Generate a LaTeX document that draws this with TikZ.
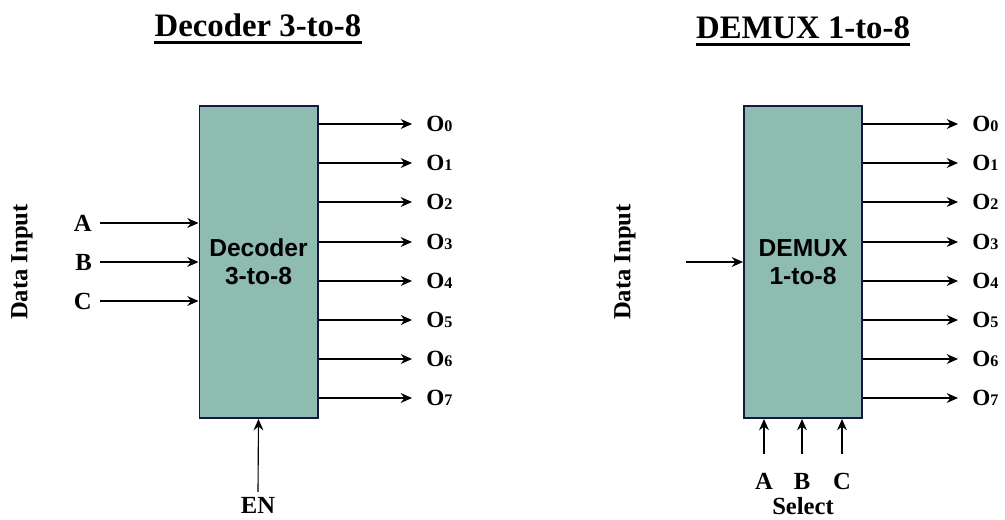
\documentclass[tikz,border=0pt]{standalone}
\usepackage{fontspec}
\setmainfont{Liberation Serif}
\setsansfont{Liberation Sans}
\usetikzlibrary{arrows.meta,positioning,calc}
\definecolor{blockfill}{RGB}{143,188,176}
\definecolor{blockline}{RGB}{22,22,62}
\newcommand{\Olbl}[1]{O{\fontsize{11.5}{11.5}\selectfont #1}}

\begin{document}
\begin{tikzpicture}[
            x=0.025cm, y=-0.025cm,
            every node/.style={font=\bfseries\fontsize{17.5}{17.5}\selectfont},
            blk/.style={draw=blockline, fill=blockfill, line width=1.4pt, minimum width=2.95cm,
                        minimum height=7.8cm, inner sep=0pt, align=center,
                        font=\sffamily\bfseries\fontsize{17.5}{20}\selectfont},
            arr/.style={-{Stealth[length=8pt,width=7pt]}, line width=0.8pt},
            outlbl/.style={anchor=west, inner xsep=0.35cm, font=\bfseries\fontsize{16.5}{16.5}\selectfont},
            inlbl/.style={anchor=east, inner xsep=0.2cm},
            ttl/.style={inner sep=0pt, anchor=base, font=\bfseries\fontsize{23.3}{28}\selectfont}
        ]

\useasboundingbox (0,0) rectangle (1005,519);

% titles
            \node[ttl] (ttl1) at (258,37) {Decoder 3-to-8};
            \node[ttl] (ttl2) at (803,39) {DEMUX 1-to-8};
            \draw[line width=2.2pt] ([yshift=-3.6pt]ttl1.base west) -- ([yshift=-3.6pt]ttl1.base east);
            \draw[line width=2.2pt] ([yshift=-3.6pt]ttl2.base west) -- ([yshift=-3.6pt]ttl2.base east);

% blocks
            \node[blk] (dec) at (258.5,262) {Decoder\\3-to-8};
            \node[blk] (dmx) at (803,262) {DEMUX\\1-to-8};

% decoder inputs
            \node[rotate=90] (din1) at (22,262) {Data Input};
            \node[inlbl] (a1) at (100,223) {A};
            \node[inlbl] (b1) at (100,262) {B};
            \node[inlbl] (c1) at (100,301) {C};
            \node (en) at (258,505) {EN};
            \draw[arr] (a1.east) -- (dec.west |- a1.east);
            \draw[arr] (b1.east) -- (dec.west |- b1.east);
            \draw[arr] (c1.east) -- (dec.west |- c1.east);
            \draw[arr] (en.north) -- (dec.south);

% decoder outputs
            \node[outlbl] (do0) at (412,124) {\Olbl{0}};
            \node[outlbl] (do1) at (412,163) {\Olbl{1}};
            \node[outlbl] (do2) at (412,202) {\Olbl{2}};
            \node[outlbl] (do3) at (412,242) {\Olbl{3}};
            \node[outlbl] (do4) at (412,281) {\Olbl{4}};
            \node[outlbl] (do5) at (412,320) {\Olbl{5}};
            \node[outlbl] (do6) at (412,359) {\Olbl{6}};
            \node[outlbl] (do7) at (412,398) {\Olbl{7}};
            \draw[arr] (dec.east |- do0.west) -- (do0.west);
            \draw[arr] (dec.east |- do1.west) -- (do1.west);
            \draw[arr] (dec.east |- do2.west) -- (do2.west);
            \draw[arr] (dec.east |- do3.west) -- (do3.west);
            \draw[arr] (dec.east |- do4.west) -- (do4.west);
            \draw[arr] (dec.east |- do5.west) -- (do5.west);
            \draw[arr] (dec.east |- do6.west) -- (do6.west);
            \draw[arr] (dec.east |- do7.west) -- (do7.west);

% demux inputs
            \node[rotate=90] (din2) at (625,262) {Data Input};
            \coordinate (dsrc) at (686,262);
            \draw[arr] (dsrc) -- (dmx.west |- dsrc);
            \node (sa) at (764,481) {A};
            \node (sb) at (802,481) {B};
            \node (sc) at (842,481) {C};
            \node (sel) at (803,506) {Select};
            \draw[arr, shorten <=10pt] (sa.north) -- (sa.north |- dmx.south);
            \draw[arr, shorten <=10pt] (sb.north) -- (sb.north |- dmx.south);
            \draw[arr, shorten <=10pt] (sc.north) -- (sc.north |- dmx.south);

% demux outputs
            \node[outlbl] (mo0) at (958,124) {\Olbl{0}};
            \node[outlbl] (mo1) at (958,163) {\Olbl{1}};
            \node[outlbl] (mo2) at (958,202) {\Olbl{2}};
            \node[outlbl] (mo3) at (958,242) {\Olbl{3}};
            \node[outlbl] (mo4) at (958,281) {\Olbl{4}};
            \node[outlbl] (mo5) at (958,320) {\Olbl{5}};
            \node[outlbl] (mo6) at (958,359) {\Olbl{6}};
            \node[outlbl] (mo7) at (958,398) {\Olbl{7}};
            \draw[arr] (dmx.east |- mo0.west) -- (mo0.west);
            \draw[arr] (dmx.east |- mo1.west) -- (mo1.west);
            \draw[arr] (dmx.east |- mo2.west) -- (mo2.west);
            \draw[arr] (dmx.east |- mo3.west) -- (mo3.west);
            \draw[arr] (dmx.east |- mo4.west) -- (mo4.west);
            \draw[arr] (dmx.east |- mo5.west) -- (mo5.west);
            \draw[arr] (dmx.east |- mo6.west) -- (mo6.west);
            \draw[arr] (dmx.east |- mo7.west) -- (mo7.west);

        \end{tikzpicture}
\end{document}
